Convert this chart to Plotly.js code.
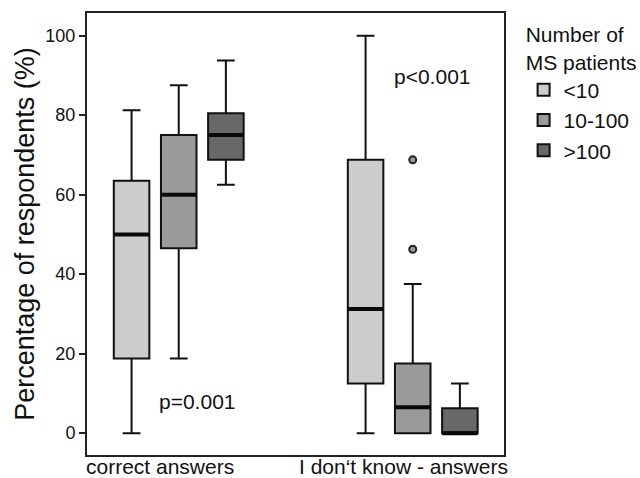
<!DOCTYPE html>
<html>
<head>
<meta charset="utf-8">
<script src="https://cdn.plot.ly/plotly-3.0.1.min.js"></script>
<style>html,body{margin:0;padding:0;background:#fff;}#chart{width:640px;height:478px;}</style>
</head>
<body>
<div id="chart"></div>
<script>
// Categories and series
var categories = ['correct answers', 'I don\u2018t know - answers'];
var seriesNames = ['&lt;10', '10-100', '&gt;100'];
var seriesColors = ['#cccccc', '#9a9a9a', '#686868'];

// Box statistics per series, one value per category
var lowerfence = [[0, 0], [18.75, 0], [62.5, 0]];
var q1 =         [[18.75, 12.5], [46.5, 0], [68.75, 0]];
var median =     [[50, 31.25], [60, 6.5], [75, 0]];
var q3 =         [[63.5, 68.75], [75, 17.5], [80.5, 6.25]];
var upperfence = [[81.25, 100], [87.5, 37.5], [93.75, 12.5]];

// Outliers (series 10-100, "I don't know - answers")
var outlierSeries = 1;
var outlierCategory = categories[1];
var outlierValues = [68.75, 46.25];

var yTicks = [0, 20, 40, 60, 80, 100];
var pLabels = ['p=0.001', 'p&lt;0.001'];

var FONT = 'Liberation Sans, Arial, sans-serif';

var traces = seriesNames.map(function (name, i) {
  return {
    type: 'box',
    name: name,
    orientation: 'v',
    x: categories,
    lowerfence: lowerfence[i],
    q1: q1[i],
    median: median[i],
    q3: q3[i],
    upperfence: upperfence[i],
    boxpoints: false,
    whiskerwidth: 0.5,
    fillcolor: seriesColors[i],
    line: {color: '#111111', width: 2},
    alignmentgroup: 'all',
    offsetgroup: 'g' + i,
    hoverinfo: 'skip'
  };
});

// Thicker median bars, drawn from the same median arrays
seriesNames.forEach(function (name, i) {
  traces.push({
    type: 'box',
    name: name + ' median',
    orientation: 'v',
    x: categories,
    lowerfence: median[i],
    q1: median[i],
    median: median[i],
    q3: median[i],
    upperfence: median[i],
    boxpoints: false,
    whiskerwidth: 0,
    fillcolor: 'rgba(0,0,0,0)',
    line: {color: '#0a0a0a', width: 4},
    alignmentgroup: 'all',
    offsetgroup: 'g' + i,
    showlegend: false,
    hoverinfo: 'skip'
  });
});

traces.push({
  type: 'box',
  name: 'outliers',
  orientation: 'v',
  x: outlierValues.map(function () { return outlierCategory; }),
  y: outlierValues,
  boxpoints: 'all',
  pointpos: 0,
  jitter: 0,
  whiskerwidth: 0,
  fillcolor: 'rgba(0,0,0,0)',
  line: {color: 'rgba(0,0,0,0)', width: 0},
  marker: {symbol: 'circle', size: 7, color: '#9a9a9a', line: {color: '#222222', width: 2}},
  alignmentgroup: 'all',
  offsetgroup: 'g' + outlierSeries,
  showlegend: false,
  hoverinfo: 'skip'
});

var layout = {
  width: 640,
  height: 478,
  margin: {l: 87, r: 136, t: 13, b: 23, autoexpand: false},
  paper_bgcolor: '#ffffff',
  plot_bgcolor: '#ffffff',
  font: {family: FONT, color: '#111111'},
  boxmode: 'group',
  boxgap: 0.3955,
  boxgroupgap: 0.246,
  showlegend: true,
  legend: {
    x: 1.047, xanchor: 'left',
    y: 0.9955, yanchor: 'top',
    font: {family: FONT, size: 21, color: '#111111'},
    title: {text: 'Number of<br>MS patients', side: 'top center', font: {family: FONT, size: 21, color: '#111111'}},
    bgcolor: 'rgba(0,0,0,0)',
    borderwidth: 0
  },
  xaxis: {
    type: 'category',
    range: [-0.392, 1.39],
    showticklabels: false,
    ticks: '',
    showgrid: false,
    zeroline: false,
    showline: true,
    mirror: true,
    linecolor: '#222222',
    linewidth: 2,
    fixedrange: true
  },
  yaxis: {
    range: [-5.5, 105.7],
    tickvals: yTicks,
    ticktext: yTicks.map(String),
    ticks: 'outside',
    ticklen: 6,
    tickwidth: 2,
    tickcolor: '#222222',
    tickfont: {family: FONT, size: 18, color: '#111111'},
    showgrid: false,
    zeroline: false,
    showline: true,
    mirror: true,
    linecolor: '#222222',
    linewidth: 2,
    title: {text: 'Percentage of respondents (%)', font: {family: FONT, size: 27, color: '#111111'}, standoff: 3},
    fixedrange: true
  },
  annotations: [
    {xref: 'paper', yref: 'paper', x: 0.176, y: -0.025, xanchor: 'center', yanchor: 'middle', borderpad: 0,
     text: categories[0], showarrow: false, font: {family: FONT, size: 21, color: '#111111'}},
    {xref: 'paper', yref: 'paper', x: 0.759, y: -0.025, xanchor: 'center', yanchor: 'middle', borderpad: 0,
     text: categories[1], showarrow: false, font: {family: FONT, size: 21, color: '#111111'}},
    {xref: 'paper', yref: 'y', x: 0.2646, y: 8, xanchor: 'center', yanchor: 'middle',
     text: pLabels[0], showarrow: false, font: {family: FONT, size: 21, color: '#111111'}},
    {xref: 'paper', yref: 'y', x: 0.8277, y: 89.8, xanchor: 'center', yanchor: 'middle',
     text: pLabels[1], showarrow: false, font: {family: FONT, size: 21, color: '#111111'}}
  ]
};

Plotly.newPlot('chart', traces, layout, {displayModeBar: false, staticPlot: true});
</script>
</body>
</html>
